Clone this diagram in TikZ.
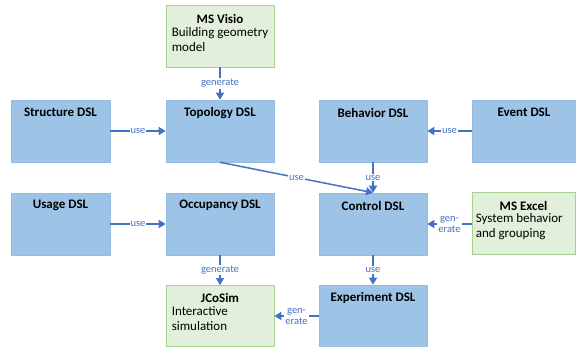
\documentclass[tikz,border=0pt]{standalone}
\usepackage{fontspec}
\setmainfont{Carlito}
\usetikzlibrary{arrows.meta}
\definecolor{dslfill}{HTML}{9DC3E6}
\definecolor{dslline}{HTML}{93BBE3}
\definecolor{toolfill}{HTML}{E2EFDA}
\definecolor{toolline}{HTML}{A9D18E}
\definecolor{flow}{HTML}{4472C4}
\tikzset{
  dsl/.style={rectangle, fill=dslfill, draw=dslline, line width=0.6pt, inner sep=0pt},
  tool/.style={rectangle, fill=toolfill, draw=toolline, line width=0.8pt, inner sep=0pt},
  title/.style={inner sep=0pt, font=\fontsize{13}{15}\selectfont\bfseries},
  body/.style={inner sep=0pt, anchor=north west, align=left, font=\fontsize{13}{15}\selectfont},
  flowarrow/.style={draw=flow, line width=1.5pt, -{Triangle[length=7pt,width=8pt]}},
  flowlabel/.style={fill=white, text=flow, inner sep=1pt, align=center,
    font=\fontsize{10.5}{11}\selectfont},
}
\begin{document}
\begin{tikzpicture}[x=1pt,y=1pt]
\useasboundingbox (0,0) rectangle (576,-347);

% grid of boxes: columns 11-110, 166-274, 319-427, 472-576
\node[tool, minimum width=108, minimum height=62] (visio) at (220,-36) {};
\node[dsl, minimum width=99, minimum height=62] (structure) at (60.5,-131) {};
\node[dsl, minimum width=108, minimum height=62] (topology) at (220,-131) {};
\node[dsl, minimum width=108, minimum height=62] (behavior) at (373,-131) {};
\node[dsl, minimum width=104, minimum height=62] (event) at (524,-131) {};
\node[dsl, minimum width=99, minimum height=62] (usage) at (60.5,-224) {};
\node[dsl, minimum width=108, minimum height=62] (occupancy) at (220,-224) {};
\node[dsl, minimum width=108, minimum height=62] (control) at (373,-224) {};
\node[tool, minimum width=103, minimum height=62] (excel) at (523.5,-223) {};
\node[tool, minimum width=108, minimum height=61] (jcosim) at (220,-316) {};
\node[dsl, minimum width=108, minimum height=62] (experiment) at (373,-316) {};

% titles
\node[title] (visioT) at ([yshift=-14]visio.north) {MS Visio};
\node[title] (structureT) at ([yshift=-13]structure.north) {Structure DSL};
\node[title] (topologyT) at ([yshift=-13]topology.north) {Topology DSL};
\node[title] (behaviorT) at ([yshift=-13]behavior.north) {Behavior DSL};
\node[title] (eventT) at ([yshift=-13]event.north) {Event DSL};
\node[title] (usageT) at ([yshift=-13]usage.north) {Usage DSL};
\node[title] (occupancyT) at ([yshift=-13]occupancy.north) {Occupancy DSL};
\node[title] (controlT) at ([yshift=-13]control.north) {Control DSL};
\node[title] (excelT) at ([yshift=-14]excel.north) {MS Excel};
\node[title] (jcosimT) at ([yshift=-13]jcosim.north) {JCoSim};
\node[title] (experimentT) at ([yshift=-13]experiment.north) {Experiment DSL};

% descriptions of the tools
\node[body] (visioB) at ([xshift=6,yshift=-23]visio.north west) {Building geometry\\model};
\node[body] (excelB) at ([xshift=4,yshift=-22]excel.north west) {System behavior\\and grouping};
\node[body] (jcosimB) at ([xshift=6,yshift=-21]jcosim.north west) {Interactive\\simulation};

% connectors
\draw[flowarrow] (visio) -- node[flowlabel] (l1) {generate} (topology);
\draw[flowarrow] (structure) -- node[flowlabel] (l2) {use} (topology);
\draw[flowarrow] (event) -- node[flowlabel] (l3) {use} (behavior);
\draw[flowarrow] (topology.south) -- node[flowlabel] (l4) {use} (control.north);
\draw[flowarrow] (behavior) -- node[flowlabel] (l5) {use} (control);
\draw[flowarrow] (usage) -- node[flowlabel] (l6) {use} (occupancy);
\draw[flowarrow] (excel.west |- control.east) -- node[flowlabel] (l7) {gen-\\erate} (control.east);
\draw[flowarrow] (occupancy) -- node[flowlabel] (l8) {generate} (jcosim);
\draw[flowarrow] (control) -- node[flowlabel] (l9) {use} (experiment);
\draw[flowarrow] (experiment) -- node[flowlabel] (l10) {gen-\\erate} (jcosim);
\end{tikzpicture}
\end{document}
